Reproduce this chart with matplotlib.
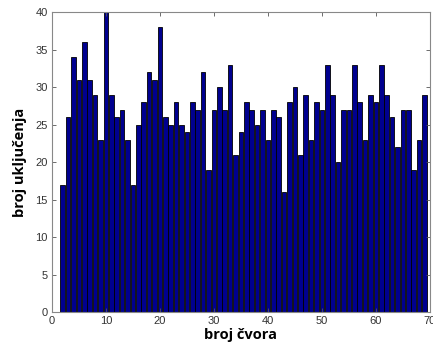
import numpy as np
import matplotlib
matplotlib.use('Agg')
import matplotlib.pyplot as plt

# node numbers and how many times each one was switched on
nodes = list(range(2, 70))
counts = [17, 26, 34, 31, 36, 31, 29, 23, 40, 29, 26, 27, 23, 17, 25, 28, 32, 31, 38,
          26, 25, 28, 25, 24, 28, 27, 32, 19, 27, 30, 27, 33, 21, 24, 28, 27, 25, 27,
          23, 27, 26, 16, 28, 30, 21, 29, 23, 28, 27, 33, 29, 20, 27, 27, 33, 28, 23,
          29, 28, 33, 29, 26, 22, 27, 27, 19, 23, 29]

xticks = [0, 10, 20, 30, 40, 50, 60, 70]
yticks = [0, 5, 10, 15, 20, 25, 30, 35, 40]

fig = plt.figure(figsize=(4.33, 3.46), dpi=100)
ax = fig.add_axes([0.12, 0.098, 0.873, 0.867])

ax.bar(nodes, counts, width=0.85, color='#00008f', edgecolor='black', linewidth=0.6)

ax.set_xlim(0, 70)
ax.set_ylim(0, 40)
ax.set_xticks(xticks)
ax.set_yticks(yticks)
ax.tick_params(direction='in', top=True, right=True, length=3, width=0.6,
               color='#555555', labelsize=8, labelcolor='#333333', pad=3)
for lbl in ax.get_xticklabels() + ax.get_yticklabels():
    lbl.set_family('Liberation Sans')
for s in ax.spines.values():
    s.set_color('#888888')
    s.set_linewidth(0.8)

ax.set_xlabel('broj čvora', fontsize=10.5, fontweight='bold', family='Open Sans', labelpad=1)
ax.set_ylabel('broj uključenja', fontsize=10.5, fontweight='bold', family='Open Sans', labelpad=6)

plt.savefig('out.png', dpi=100)
